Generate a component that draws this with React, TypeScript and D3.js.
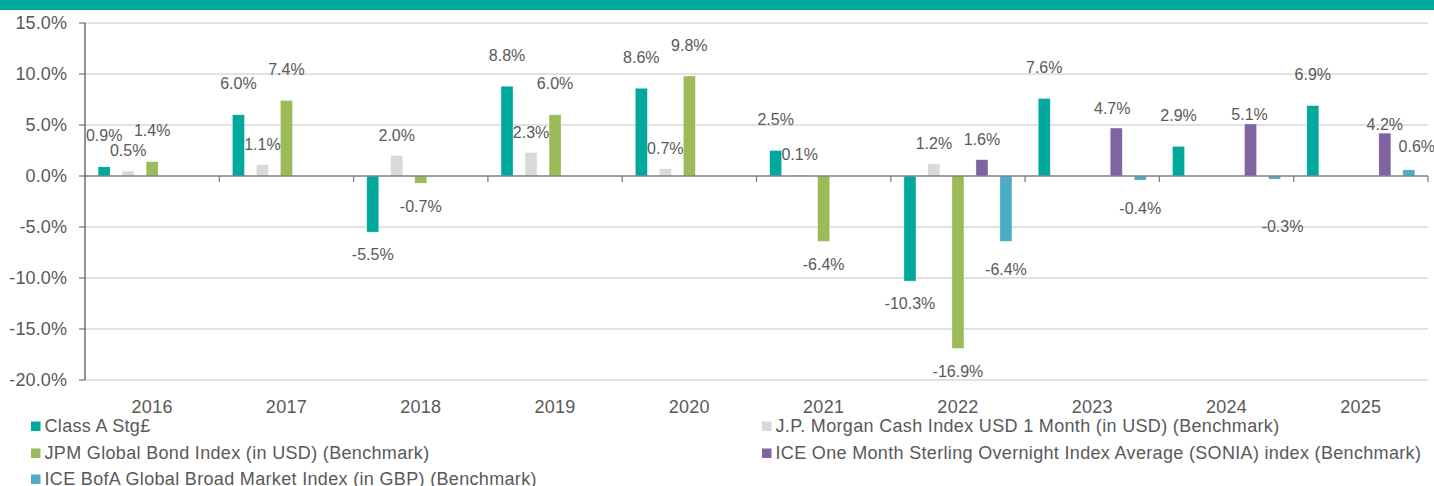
import React from "react";
import * as d3 from "d3";

const years = ["2016", "2017", "2018", "2019", "2020", "2021", "2022", "2023", "2024", "2025"];
const seriesNames = [
  "Class A Stg£",
  "J.P. Morgan Cash Index USD 1 Month (in USD) (Benchmark)",
  "JPM Global Bond Index (in USD) (Benchmark)",
  "ICE One Month Sterling Overnight Index Average (SONIA) index (Benchmark)",
  "ICE BofA Global Broad Market Index (in GBP) (Benchmark)",
];
const classA: (number | null)[] = [0.9, 6.0, -5.5, 8.8, 8.6, 2.5, -10.3, 7.6, 2.9, 6.9];
const jpmCash: (number | null)[] = [0.5, 1.1, 2.0, 2.3, 0.7, 0.1, 1.2, null, null, null];
const jpmBond: (number | null)[] = [1.4, 7.4, -0.7, 6.0, 9.8, -6.4, -16.9, null, null, null];
const sonia: (number | null)[] = [null, null, null, null, null, null, 1.6, 4.7, 5.1, 4.2];
const iceBofa: (number | null)[] = [null, null, null, null, null, null, -6.4, -0.4, -0.3, 0.6];
const yTicks = [15, 10, 5, 0, -5, -10, -15, -20];

const seriesValues = [classA, jpmCash, jpmBond, sonia, iceBofa];
const colors = ["#00A99D", "#D9D9D9", "#9BBB59", "#8064A2", "#4BACC6"];
// label distance from bar end (positive, negative)
const labelOffsets: [number, number][] = [
  [31, 22],
  [20, 22],
  [31, 23],
  [20, 22],
  [23, 28],
];
// small per-label nudges [dx, dy]
const labelNudges: Record<string, [number, number]> = {
  "2023-3": [-4, 0],
  "2024-3": [-1, 11],
  "2025-3": [0, 11],
  "2024-4": [8, 19],
  "2025-4": [8, 0],
};

const W = 1434;
const H = 486;
const left = 85;
const right = 1428;
const top = 23;
const bottom = 380;
const font = "'Liberation Sans', Arial, sans-serif";
const textColor = "#595959";
const ls = 0.33;

export default function App() {
  const x0 = d3.scaleBand<string>().domain(years).range([left, right]).padding(0);
  const bw = x0.bandwidth();
  const pad = (bw - 120) / 2;
  const x1 = d3
    .scaleBand<number>()
    .domain(d3.range(5))
    .range([pad, bw - pad])
    .paddingInner(0.5)
    .paddingOuter(0.25);
  const y = d3.scaleLinear().domain([-20, 15]).range([bottom, top]);
  const fmt = (v: number) => v.toFixed(1) + "%";

  const bars: React.ReactNode[] = [];
  const labels: React.ReactNode[] = [];
  seriesValues.forEach((vals, si) => {
    vals.forEach((v, yi) => {
      if (v === null) return;
      const xs = (x0(years[yi]) as number) + (x1(si) as number);
      const y0 = y(0);
      const yv = y(v);
      bars.push(
        <rect
          key={`b-${si}-${yi}`}
          x={xs}
          y={Math.min(y0, yv)}
          width={x1.bandwidth()}
          height={Math.abs(yv - y0)}
          fill={colors[si]}
          stroke="#ffffff"
          strokeOpacity={0.5}
          strokeWidth={0.6}
        />
      );
      const nudge = labelNudges[`${years[yi]}-${si}`] || [0, 0];
      const [po, no] = labelOffsets[si];
      const ly = v >= 0 ? yv - po + nudge[1] : yv + no + nudge[1];
      labels.push(
        <text
          key={`l-${si}-${yi}`}
          x={xs + x1.bandwidth() / 2 + nudge[0]}
          y={ly}
          textAnchor="middle"
          dominantBaseline="central"
          fontSize={16}
          fill={textColor}
          fontFamily={font}
        >
          {fmt(v)}
        </text>
      );
    });
  });

  const legendItems = [
    { i: 0, x: 31, y: 426 },
    { i: 1, x: 762, y: 426 },
    { i: 2, x: 31, y: 453 },
    { i: 3, x: 762, y: 453 },
    { i: 4, x: 31, y: 479 },
  ];

  return (
    <svg
      width={W}
      height={H}
      style={{ position: "absolute", left: 0, top: 0, background: "#fff" }}
      fontFamily={font}
    >
      <rect x={0} y={0} width={W} height={10} fill="#00A99D" />
      {yTicks.map((t) => (
        <g key={`g-${t}`}>
          {t !== 0 && (
            <line x1={left} x2={right} y1={y(t)} y2={y(t)} stroke="#D9D9D9" strokeWidth={1.3} />
          )}
          <line x1={left - 6} x2={left} y1={y(t)} y2={y(t)} stroke="#595959" strokeWidth={1} />
          <text
            x={67}
            y={y(t)}
            textAnchor="end"
            dominantBaseline="central"
            fontSize={18}
            letterSpacing={0.1}
            fill={textColor}
          >
            {t.toFixed(1) + "%"}
          </text>
        </g>
      ))}
      {bars}
      <line x1={left} x2={right} y1={y(0)} y2={y(0)} stroke="#7F7F7F" strokeWidth={1.3} />
      {years.map((yr) => (
        <line
          key={`t-${yr}`}
          x1={(x0(yr) as number) + bw}
          x2={(x0(yr) as number) + bw}
          y1={y(0)}
          y2={y(0) + 6}
          stroke="#7F7F7F"
          strokeWidth={1.3}
        />
      ))}
      <line x1={left} x2={left} y1={top} y2={bottom} stroke="#595959" strokeWidth={1.3} />
      {labels}
      {years.map((yr) => (
        <text
          key={`x-${yr}`}
          x={(x0(yr) as number) + bw / 2}
          y={407}
          textAnchor="middle"
          dominantBaseline="central"
          fontSize={18}
          letterSpacing={0.28}
          fill={textColor}
        >
          {yr}
        </text>
      ))}
      {legendItems.map(({ i, x, y: ly }) => (
        <g key={`lg-${i}`}>
          <rect x={x} y={ly - 4.5} width={9.5} height={9.5} fill={colors[i]} />
          <text
            x={x + 13.5}
            y={ly}
            dominantBaseline="central"
            fontSize={18}
            letterSpacing={ls}
            fill={textColor}
          >
            {seriesNames[i]}
          </text>
        </g>
      ))}
    </svg>
  );
}
